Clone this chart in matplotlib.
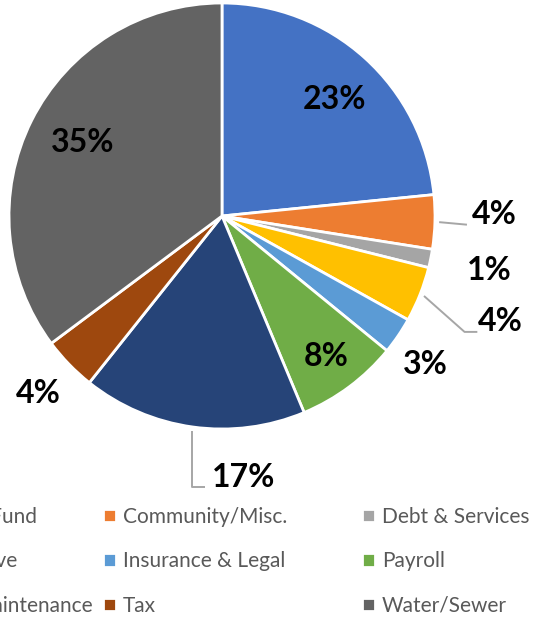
import numpy as np
import matplotlib.pyplot as plt

plt.rcParams['font.family'] = ['Lato', 'DejaVu Sans']

categories = ['Capital Fund', 'Community/Misc.', 'Debt & Services',
              'Legislative', 'Insurance & Legal', 'Payroll',
              'Road Maintenance', 'Tax', 'Water/Sewer']
shares = [23.4, 4.1, 1.4, 4.2, 2.8, 7.8, 17.0, 4.1, 35.2]
colors = ['#4472C4', '#ED7D31', '#A5A5A5', '#FFC000', '#5B9BD5',
          '#70AD47', '#264478', '#9E480E', '#636363']

# label placement: distance in pie radii, angular shift (deg, clockwise)
label_r = [0.76, 1.28, 1.28, 1.40, 1.18, 0.82, 1.23, 1.20, 0.74]
label_shift = [2.0, -1.9, 0, -0.8, 1.9, 0, -12.6, 0, 1.0]

W, H = 535, 623
R = 213.0                 # pie radius in px
cx, cy = 222, 216         # pie centre in px (from top-left)

fig = plt.figure(figsize=(W / 100, H / 100), dpi=100)
ax = fig.add_axes([0, 0, 1, 1])

wedges, _ = ax.pie(shares, colors=colors, startangle=90, counterclock=False,
                   radius=1, wedgeprops=dict(edgecolor='white', linewidth=2.0))
ax.set_xlim(-cx / R, (W - cx) / R)
ax.set_ylim(-(H - cy) / R, cy / R)
ax.axis('off')

lead_col = '#A6A6A6'
for i, w in enumerate(wedges):
    mid = np.deg2rad((w.theta1 + w.theta2) / 2 - label_shift[i])
    tx, ty = label_r[i] * np.cos(mid), label_r[i] * np.sin(mid)
    ax.text(tx, ty, '%.0f%%' % shares[i], ha='center', va='center',
            fontsize=23, fontweight='bold', color='black')

    m0 = np.deg2rad((w.theta1 + w.theta2) / 2)
    ex, ey = 1.02 * np.cos(m0), 1.02 * np.sin(m0)
    yl = ty - 0.047
    if i == 1:
        pts = [(ex, ey), (tx - 0.13, yl)]
    elif i == 3:
        pts = [(ex, ey), (tx - 0.17, yl), (tx - 0.11, yl)]
    elif i == 6:
        pts = [(ex, ey), (ex, yl), (tx - 0.18, yl)]
    else:
        continue
    xs, ys = zip(*pts)
    ax.plot(xs, ys, color=lead_col, lw=1.4, solid_capstyle='butt')

# legend, three columns laid out row by row like the original
cols = [[0, 3, 6], [1, 4, 7], [2, 5, 8]]
anchors = [(93, 'upper right'), (103, 'upper left'), (362, 'upper left')]
for idx, (xpx, loc) in zip(cols, anchors):
    leg = fig.legend([wedges[k] for k in idx], [categories[k] for k in idx],
                     loc=loc, bbox_to_anchor=(xpx / W, 1 - 507 / H),
                     frameon=False, fontsize=15, labelcolor='#595959',
                     handlelength=0.6, handleheight=0.6, handletextpad=0.35,
                     labelspacing=1.17, borderpad=0, borderaxespad=0)

fig.savefig('out.png', dpi=100)
